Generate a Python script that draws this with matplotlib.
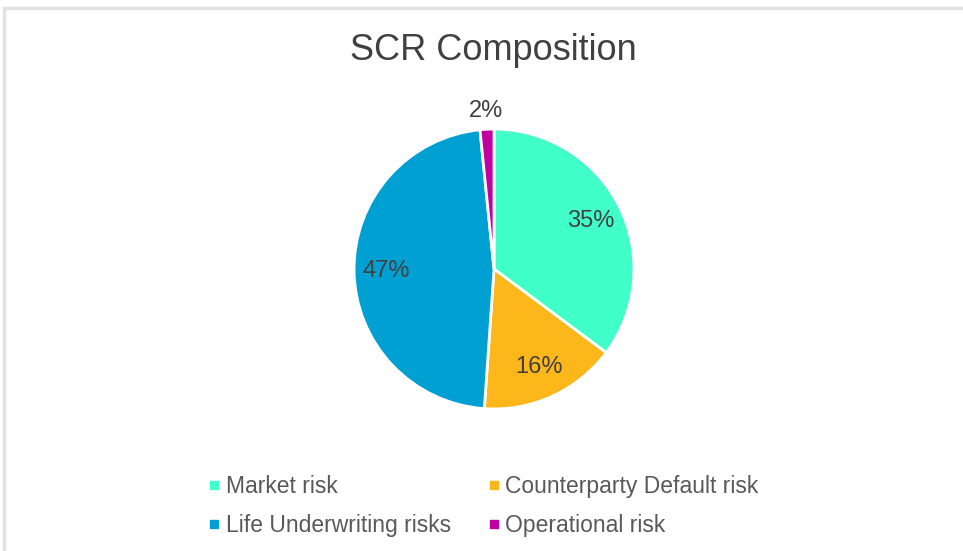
import matplotlib.pyplot as plt
from matplotlib.lines import Line2D
from matplotlib.patches import Rectangle
import numpy as np

plt.rcParams['font.family'] = ['Liberation Sans', 'DejaVu Sans']

categories = ['Market risk', 'Counterparty Default risk', 'Life Underwriting risks', 'Operational risk']
shares = [35.2, 15.9, 47.3, 1.6]
colors = ['#40FFC8', '#FDB71A', '#00A0D2', '#C000A0']

W, H = 963, 551
fig = plt.figure(figsize=(W / 100, H / 100), dpi=100)

# light frame around the chart area (top and left edges visible)
fig.add_artist(Rectangle((4 / W, -0.05), 1.2, (H - 8) / H + 0.05, transform=fig.transFigure,
                         fill=False, edgecolor='#E3E3E3', linewidth=2.5))

fig.text(493 / W, 1 - 51 / H, 'SCR Composition', ha='center', va='center',
         fontsize=26, color='#404040')

# pie centred near (494, 269) px with radius ~140 px
ax = fig.add_axes([(494 - 150) / W, (H - 269 - 150) / H, 300 / W, 300 / H])
wedges, texts, autotexts = ax.pie(
    shares, colors=colors, startangle=90, counterclock=False, radius=0.933,
    autopct=lambda p: f'{p:.0f}%', pctdistance=0.77,
    wedgeprops=dict(edgecolor='white', linewidth=2),
    textprops=dict(fontsize=17, color='#404040'))
ax.set_xlim(-1, 1)
ax.set_ylim(-1, 1)
ax.set_aspect('equal')
ax.axis('off')

# small slice gets its label outside
w = wedges[3]
mid = np.deg2rad((w.theta1 + w.theta2) / 2)
autotexts[3].set_position((1.13 * 0.933 * np.cos(mid), 1.13 * 0.933 * np.sin(mid)))

# legend fills row-wise like the original
order = [0, 2, 1, 3]
handles = [Line2D([], [], marker='s', linestyle='', markersize=6,
                  markerfacecolor=colors[i], markeredgecolor=colors[i]) for i in order]
labels = [categories[i] for i in order]
fig.legend(handles, labels, ncol=2, loc='center left', bbox_to_anchor=(196 / W, 1 - 506 / H),
           frameon=False, fontsize=16.5, labelcolor='#595959', handletextpad=0.1,
           columnspacing=1.46, labelspacing=0.72, handlelength=0.8, borderaxespad=0)

fig.savefig('out.png', dpi=100)
